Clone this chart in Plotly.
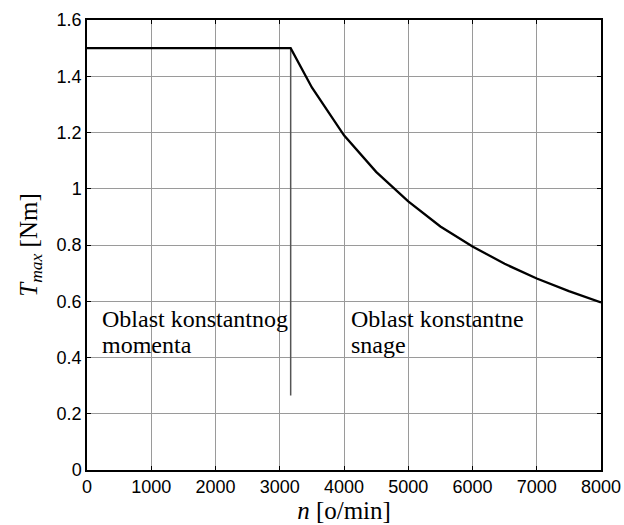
import plotly.graph_objects as go

# Data
n_rpm = [0, 3170, 3500, 4000, 4500, 5000, 5500, 6000, 6500, 7000, 7500, 8000]
t_max = [1.5, 1.5, 1.36, 1.19, 1.06, 0.955, 0.866, 0.795, 0.733, 0.681, 0.636, 0.596]

boundary_x = [3170, 3170]
boundary_y = [0.265, 1.5]

x_ticks = [0, 1000, 2000, 3000, 4000, 5000, 6000, 7000, 8000]
y_ticks = [0, 0.2, 0.4, 0.6, 0.8, 1.0, 1.2, 1.4, 1.6]
y_tick_labels = ["0", "0.2", "0.4", "0.6", "0.8", "1", "1.2", "1.4", "1.6"]

label_left_lines = ["Oblast konstantnog", "momenta"]
label_right_lines = ["Oblast konstantne", "snage"]
label_left_x = 207
label_right_x = 4085
label_line_y = [0.59, 0.497]

serif = "Liberation Serif, Times New Roman, serif"
sans = "Liberation Sans, Arial, sans-serif"

fig = go.Figure()
fig.add_trace(go.Scatter(x=boundary_x, y=boundary_y, mode="lines",
                         line=dict(color="#555555", width=1.5), showlegend=False))
fig.add_trace(go.Scatter(x=n_rpm, y=t_max, mode="lines",
                         line=dict(color="black", width=2.3), showlegend=False))

for lx, lines in ((label_left_x, label_left_lines), (label_right_x, label_right_lines)):
    for ly, txt in zip(label_line_y, lines):
        fig.add_annotation(x=lx, y=ly, xref="x", yref="y", text=txt,
                           showarrow=False, xanchor="left", yanchor="top", align="left",
                           font=dict(family=serif, size=24, color="black"))

axis_common = dict(showgrid=True, gridcolor="#9a9a9a", gridwidth=1,
                   showline=True, linecolor="black", linewidth=1.5, mirror="ticks",
                   ticks="inside", ticklen=4, tickcolor="black",
                   tickfont=dict(family=sans, size=18, color="black"),
                   zeroline=False, automargin=False)

fig.update_xaxes(range=[0, 8000], tickvals=x_ticks,
                 title=dict(text="<i>n</i> [o/min]", font=dict(family=serif, size=25, color="black"),
                            standoff=0),
                 **axis_common)
fig.update_yaxes(range=[0, 1.6], tickvals=y_ticks, ticktext=y_tick_labels,
                 title=dict(text="<i>T<sub>max</sub></i> [Nm]", font=dict(family=serif, size=25, color="black"),
                            standoff=12),
                 **axis_common)

fig.update_layout(width=624, height=525, margin=dict(l=87, r=23, t=20, b=55),
                  plot_bgcolor="white", paper_bgcolor="white")

fig.write_html("out.html")
